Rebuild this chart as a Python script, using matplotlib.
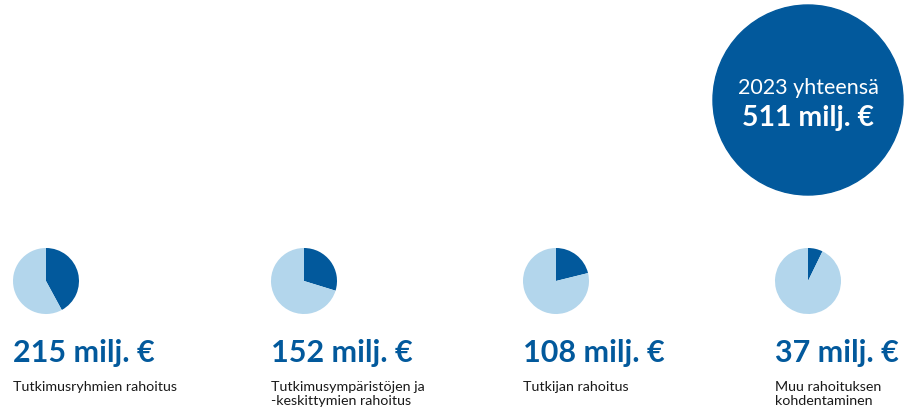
import matplotlib
matplotlib.use("Agg")
import matplotlib.pyplot as plt
from matplotlib.patches import Circle

plt.rcParams['font.family'] = ['Lato', 'DejaVu Sans']

total = 511
total_label = "2023 yhteensä"
values = [215, 152, 108, 37]
labels = ["Tutkimusryhmien rahoitus",
          "Tutkimusympäristöjen ja\n-keskittymien rahoitus",
          "Tutkijan rahoitus",
          "Muu rahoituksen\nkohdentaminen"]

dark = "#02599C"
light = "#B3D6EC"

W, H = 910, 410
fig = plt.figure(figsize=(W / 100, H / 100), dpi=100)
ax = fig.add_axes([0, 0, 1, 1])

# Big total circle
ax.add_patch(Circle((808, 101), 95, color=dark, zorder=1))
ax.text(808, 88, total_label, color="white", fontsize=15.5, ha='center', va='center')
ax.text(808, 118, f"{total} milj. €", color="white", fontsize=20.5, fontweight='bold',
        ha='center', va='center')

centers_x = [46, 304, 556, 808]
for cx, v, lab in zip(centers_x, values, labels):
    # y axis is inverted: start at -90 (screen top) and go counterclockwise in data
    ax.pie([v, total - v], colors=[dark, light], startangle=-90, counterclock=True,
           center=(cx, 282), radius=33, frame=True,
           wedgeprops=dict(linewidth=0))
    left = cx - 33
    ax.text(left, 362, f"{v} milj. €", color=dark, fontsize=22, fontweight='bold',
            ha='left', va='baseline')
    ax.text(left, 381, lab, color="#1a1a1a", fontsize=10.3, ha='left', va='top',
            linespacing=1.25)

ax.set_xlim(0, W)
ax.set_ylim(H, 0)
ax.set_aspect('equal')
ax.axis('off')
fig.savefig("out.png", dpi=100)
